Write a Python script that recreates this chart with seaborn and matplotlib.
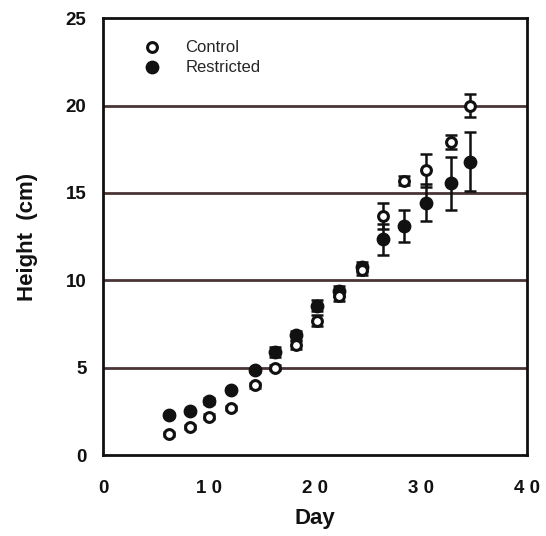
import pandas as pd
import matplotlib
matplotlib.use("Agg")
import matplotlib.pyplot as plt
import seaborn as sns

# 讀圖估計的資料 (cm)
days = [6.2, 8.2, 10.0, 12.1, 14.3, 16.2, 18.2, 20.2, 22.3, 24.4, 26.4, 28.4, 30.5, 32.8, 34.6]
control = [1.2, 1.6, 2.2, 2.7, 4.0, 5.0, 6.3, 7.7, 9.1, 10.6, 13.7, 15.7, 16.3, 17.9, 20.0]
control_se = [0.1, 0.1, 0.15, 0.1, 0.15, 0.15, 0.25, 0.3, 0.3, 0.3, 0.75, 0.25, 0.95, 0.4, 0.65]
restricted = [2.3, 2.5, 3.1, 3.75, 4.85, 5.9, 6.85, 8.55, 9.4, 10.75, 12.35, 13.1, 14.45, 15.55, 16.8]
restricted_se = [0.1, 0.1, 0.15, 0.1, 0.1, 0.3, 0.25, 0.3, 0.3, 0.3, 0.9, 0.9, 1.05, 1.5, 1.7]

df = pd.DataFrame({
    'day': days * 2,
    'height': control + restricted,
    'se': control_se + restricted_se,
    'group': ['Control'] * len(days) + ['Restricted'] * len(days),
})

sns.set_style('white')
plt.rcParams['font.family'] = ['Liberation Sans', 'DejaVu Sans']

fig = plt.figure(figsize=(5.46, 5.36), dpi=100)
ax = fig.add_axes([0.189, 0.151, 0.776, 0.815])

# 水平格線
for yv in [5, 10, 15, 20]:
    ax.axhline(yv, color='#4a3434', lw=2.0, zorder=1)

# 誤差棒
for g in ['Control', 'Restricted']:
    sub = df[df['group'] == g]
    ax.errorbar(sub['day'], sub['height'], yerr=sub['se'], fmt='none',
                ecolor='#111111', elinewidth=1.8, capsize=4, capthick=1.8, zorder=2)

sub_c = df[df['group'] == 'Control']
sub_r = df[df['group'] == 'Restricted']
sns.scatterplot(data=sub_r, x='day', y='height', ax=ax, color='#111111',
                edgecolor='#111111', s=80, linewidth=1, zorder=3, label='Restricted')
sns.scatterplot(data=sub_c, x='day', y='height', ax=ax, color='white',
                edgecolor='#111111', s=50, linewidth=2.2, zorder=4, label='Control')

handles, labels = ax.get_legend_handles_labels()
order = [labels.index('Control'), labels.index('Restricted')]
ax.legend([handles[i] for i in order], [labels[i] for i in order],
          loc='upper left', bbox_to_anchor=(0.04, 0.985), frameon=False,
          prop={'size': 12}, handletextpad=1.0, labelspacing=0.3)

ax.set_xlim(0, 40)
ax.set_ylim(0, 25)
ax.set_xticks([0, 10, 20, 30, 40])
ax.set_xticklabels(['0', '1 0', '2 0', '3 0', '4 0'])
ax.set_yticks([0, 5, 10, 15, 20, 25])
ax.tick_params(axis='both', direction='out', length=6, width=1.8, color='#111111',
               labelsize=13.5, labelcolor='#111111')
ax.tick_params(axis='x', pad=12)
ax.tick_params(axis='y', pad=6)
for lab in ax.get_xticklabels() + ax.get_yticklabels():
    lab.set_fontweight('bold')

for sp in ax.spines.values():
    sp.set_linewidth(2.0)
    sp.set_color('#111111')

ax.set_xlabel('Day', fontsize=16, fontweight='bold', color='#111111', labelpad=8)
ax.set_ylabel('Height  (cm)', fontsize=16, fontweight='bold', color='#111111', labelpad=20)

fig.savefig('out.png', dpi=100)
